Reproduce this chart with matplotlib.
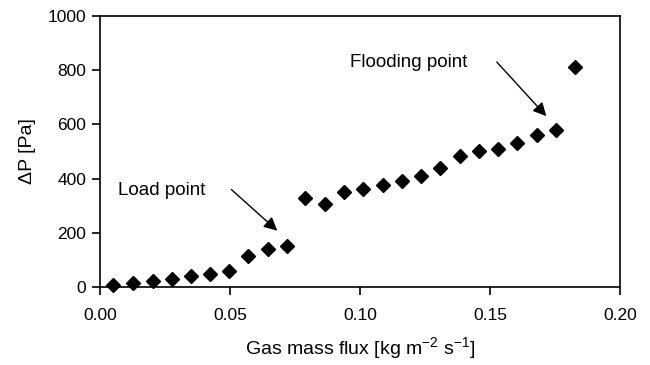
import matplotlib
matplotlib.use('Agg')
import matplotlib.pyplot as plt

plt.rcParams['font.family'] = ['Liberation Sans', 'DejaVu Sans']
plt.rcParams['mathtext.fontset'] = 'custom'
plt.rcParams['mathtext.rm'] = 'Liberation Sans'

# gas mass flux [kg m-2 s-1] and pressure drop [Pa]
gas_flux = [0.0051, 0.0128, 0.0203, 0.0276, 0.0350, 0.0423, 0.0497, 0.0570,
            0.0647, 0.0720, 0.0788, 0.0865, 0.0940, 0.1013, 0.1087, 0.1160,
            0.1235, 0.1309, 0.1385, 0.1458, 0.1532, 0.1605, 0.1680, 0.1754,
            0.1827]
delta_p = [8, 15, 23, 30, 39, 48, 59, 113,
           141, 152, 328, 306, 352, 362, 375, 391,
           410, 439, 484, 501, 511, 531, 561, 580,
           811]

x_ticks = [0.00, 0.05, 0.10, 0.15, 0.20]
y_ticks = [0, 200, 400, 600, 800, 1000]

fig = plt.figure(figsize=(6.5, 3.65), dpi=100)
ax = fig.add_axes([0.1538, 0.2137, 0.80, 0.7423])

ax.plot(gas_flux, delta_p, linestyle='none', marker='D', color='black',
        markersize=7.5, clip_on=False)

ax.set_xlim(0, 0.20)
ax.set_ylim(0, 1000)
ax.set_xticks(x_ticks)
ax.set_xticklabels(['%.2f' % t for t in x_ticks])
ax.set_yticks(y_ticks)
ax.tick_params(direction='out', length=6, width=1.2, labelsize=12.5,
               top=False, right=False)
ax.tick_params(axis='x', pad=9)
ax.tick_params(axis='y', pad=4)
for s in ax.spines.values():
    s.set_linewidth(1.2)

ax.set_xlabel(r'Gas mass flux [kg m$^{\mathrm{-2}}$ s$^{\mathrm{-1}}$]',
              fontsize=14, labelpad=9)
ax.set_ylabel('ΔP [Pa]', fontsize=14, labelpad=8)

# annotations
ax.annotate('', xy=(0.0690, 201), xytext=(0.0497, 367),
            arrowprops=dict(arrowstyle='-|>', color='black', lw=1,
                            mutation_scale=20))
ax.text(0.0069, 358, 'Load point', fontsize=13.5, va='center', ha='left')

ax.annotate('', xy=(0.1724, 623), xytext=(0.1519, 838),
            arrowprops=dict(arrowstyle='-|>', color='black', lw=1,
                            mutation_scale=20))
ax.text(0.0962, 829, 'Flooding point', fontsize=13.5, va='center', ha='left')

fig.savefig('out.png', dpi=100)
